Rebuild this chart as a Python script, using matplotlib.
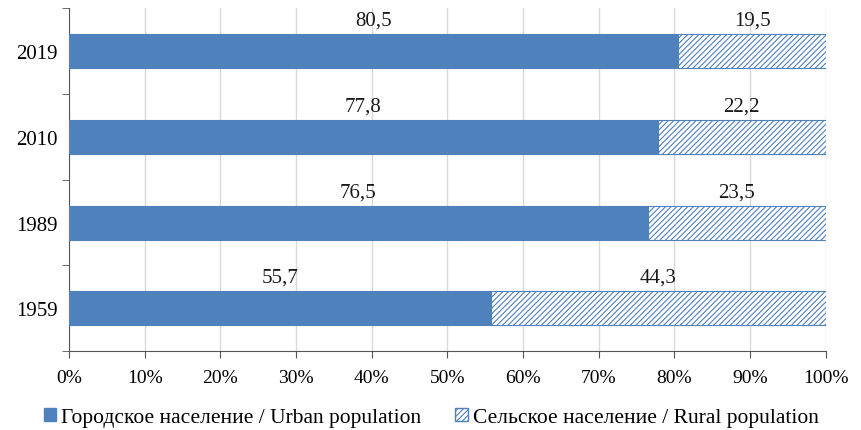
import numpy as np
import matplotlib.pyplot as plt
from matplotlib.patches import Patch

plt.rcParams['font.family'] = ['Liberation Serif', 'DejaVu Serif']
plt.rcParams['hatch.linewidth'] = 0.8

years = ['1959', '1989', '2010', '2019']
urban = [55.7, 76.5, 77.8, 80.5]
rural = [44.3, 23.5, 22.2, 19.5]
urban_labels = ['55,7', '76,5', '77,8', '80,5']
rural_labels = ['44,3', '23,5', '22,2', '19,5']

blue = '#4f81bd'

fig = plt.figure(figsize=(8.62, 4.31), dpi=100)
ax = fig.add_axes([0.08, 0.183, 0.878, 0.795])

y = np.arange(len(years))
ax.barh(y, urban, height=0.4, color=blue, edgecolor=blue, linewidth=0.8, zorder=3)
ax.barh(y, rural, left=urban, height=0.4, color='white', edgecolor=blue,
        hatch='//////', linewidth=0.8, zorder=3)

for i in range(len(years)):
    ax.text(urban[i] / 2, y[i] + 0.25, urban_labels[i], ha='center', va='bottom',
            fontsize=15, color='#1a1a1a')
    ax.text(urban[i] + rural[i] / 2, y[i] + 0.25, rural_labels[i], ha='center',
            va='bottom', fontsize=15, color='#1a1a1a')

ax.set_xlim(0, 100)
ax.set_ylim(-0.5, 3.5)
ax.set_xticks(np.arange(0, 101, 10))
ax.set_xticklabels([f'{v}%' for v in range(0, 101, 10)], fontsize=14)
ax.set_yticks(y)
ax.set_yticklabels(years, fontsize=15)
ax.set_yticks(np.arange(-0.5, 3.6, 1), minor=True)
ax.tick_params(axis='y', which='major', length=0, pad=8)
ax.tick_params(axis='y', which='minor', length=5, color='#555555')
ax.tick_params(axis='x', length=5, color='#555555', pad=8)
ax.grid(axis='x', color='#d9d9d9', linewidth=1, zorder=0)

for s in ['top', 'right']:
    ax.spines[s].set_visible(False)
for s in ['left', 'bottom']:
    ax.spines[s].set_color('#555555')

handles = [Patch(facecolor=blue, edgecolor=blue),
           Patch(facecolor='white', edgecolor=blue, hatch='//////')]
fig.legend(handles, ['Городское население / Urban population',
                     'Сельское население / Rural population'],
           loc='lower center', bbox_to_anchor=(0.5, -0.038), ncol=2, frameon=False,
           fontsize=15.5, handlelength=0.6, handleheight=0.6, handletextpad=0.2,
           columnspacing=1.6)

fig.savefig('out.png', dpi=100)
